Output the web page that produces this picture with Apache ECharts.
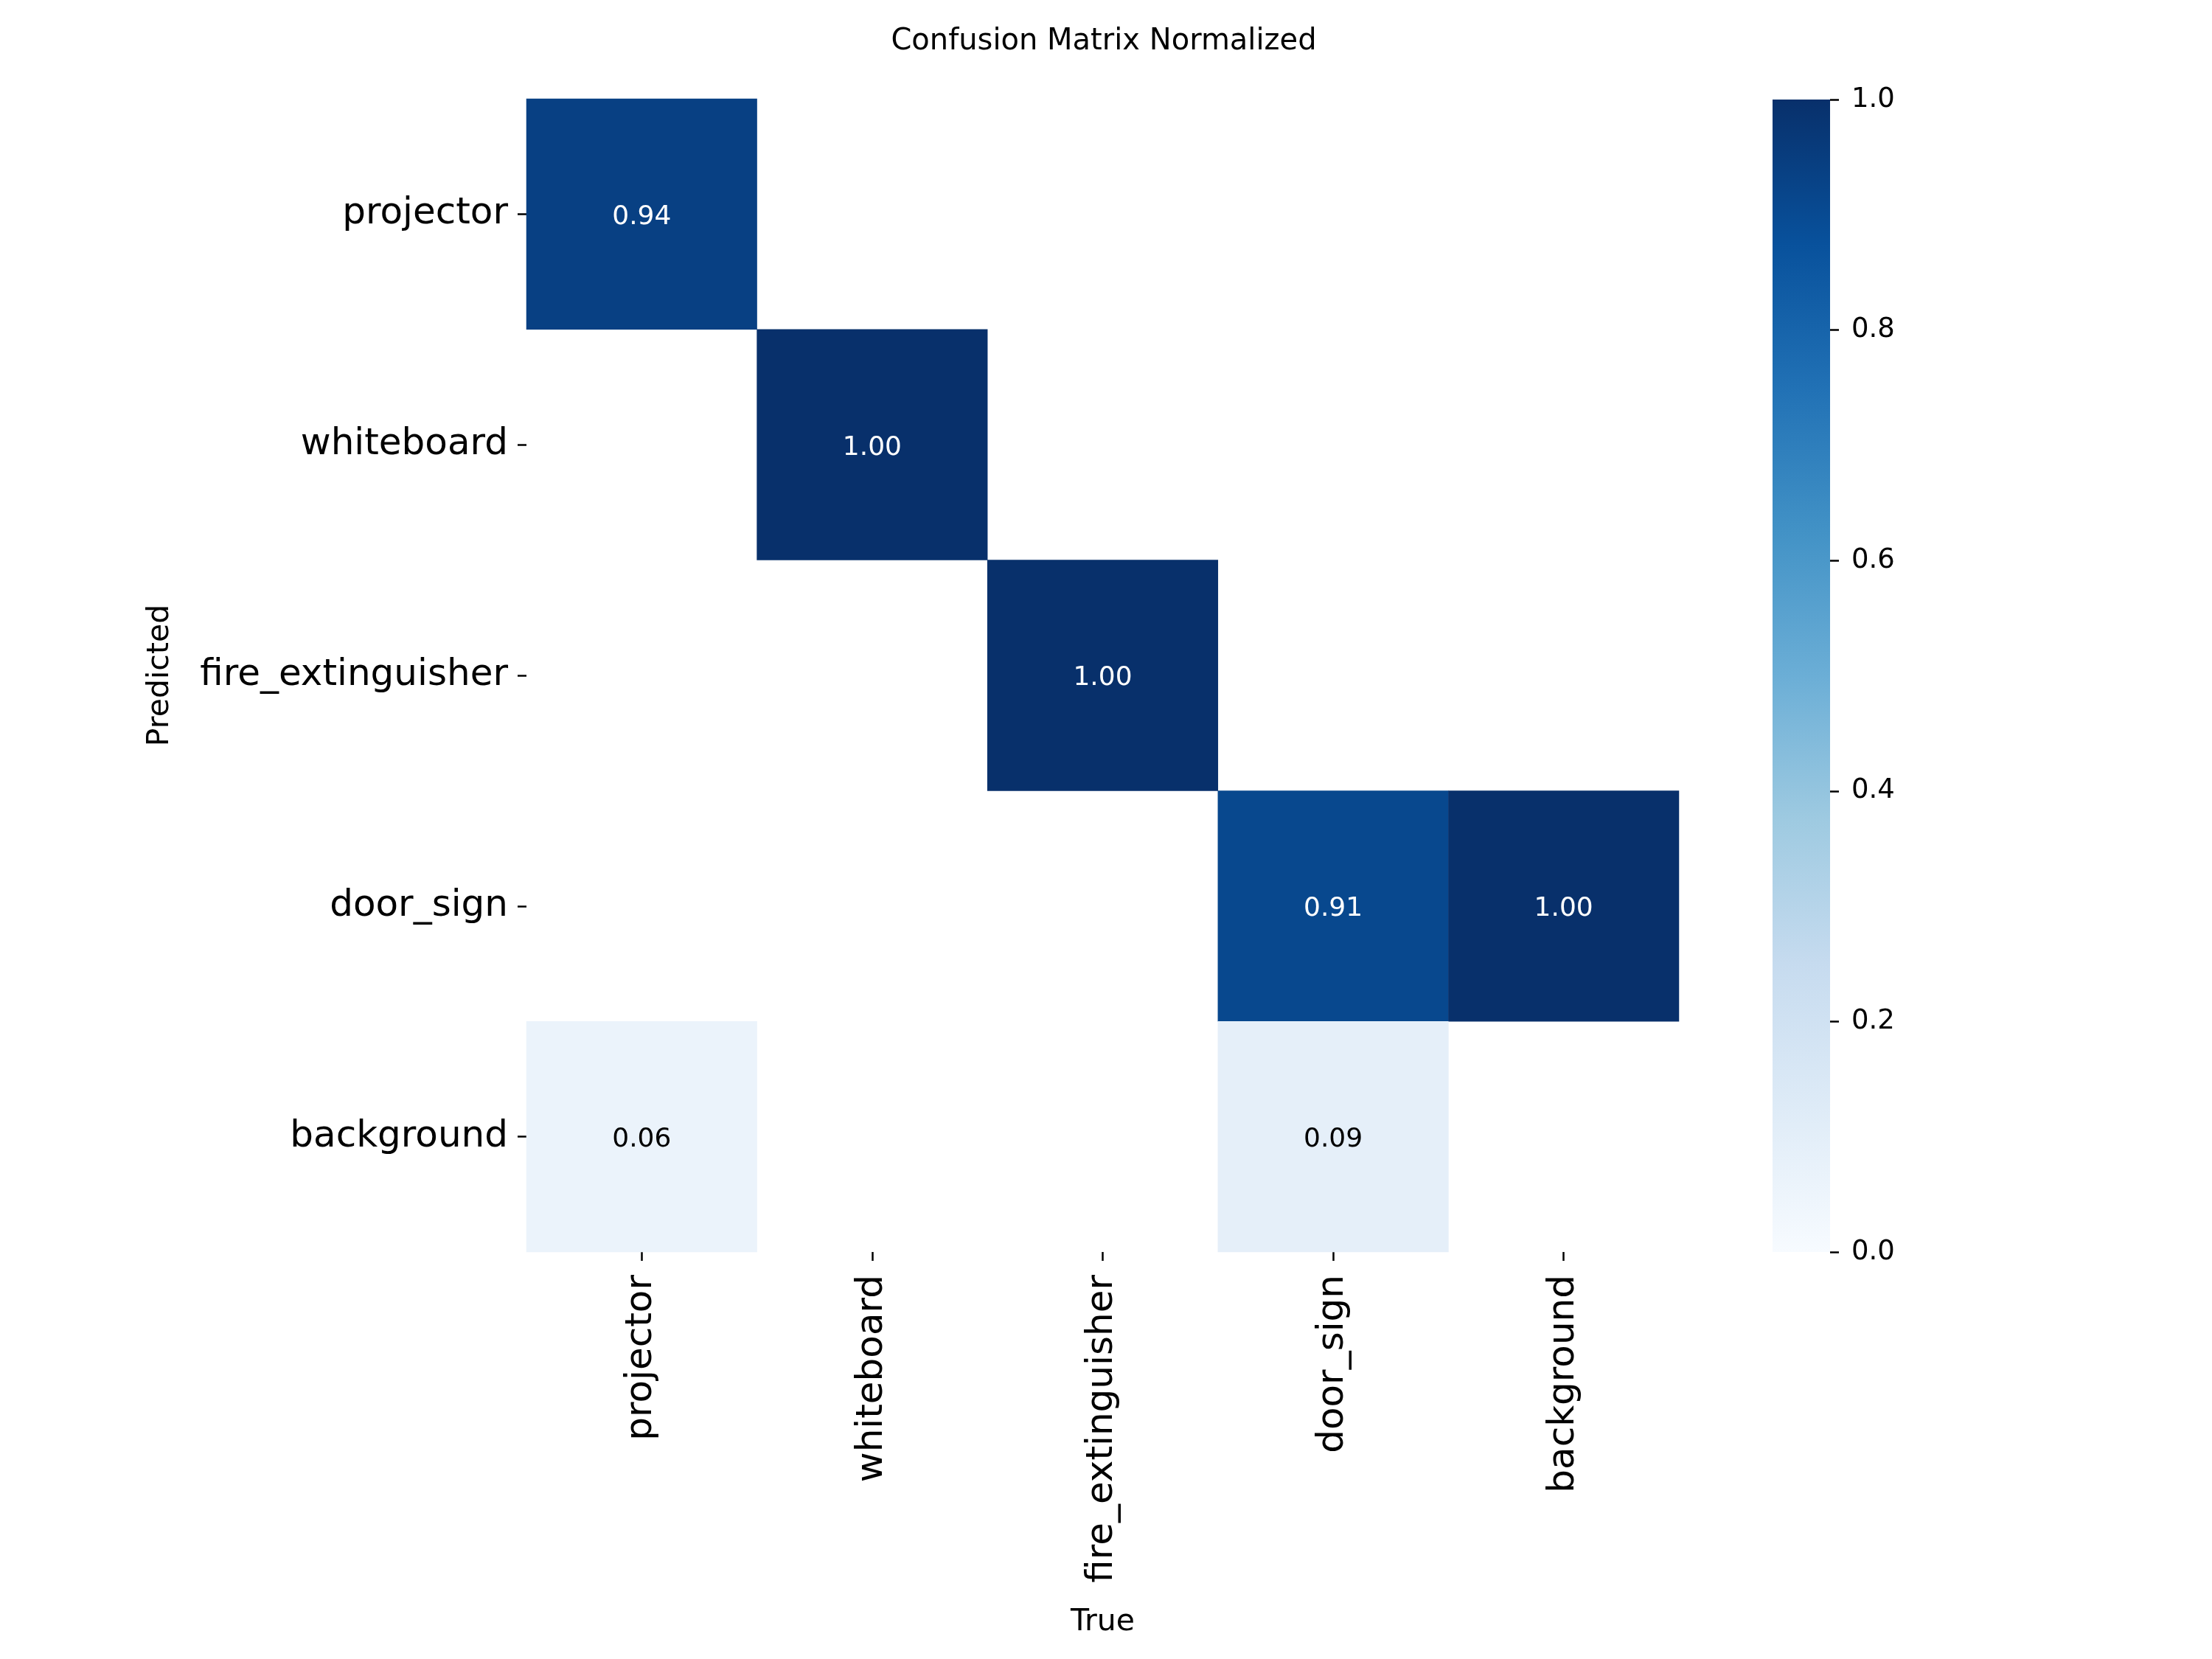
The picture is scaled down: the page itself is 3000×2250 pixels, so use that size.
<!DOCTYPE html>
<html lang="en">
<head>
    <meta charset="UTF-8">
    <title>Confusion Matrix Normalized</title>
    <script src="https://cdn.jsdelivr.net/npm/echarts@6/dist/echarts.min.js"></script>
    <style>
        html, body { margin: 0; padding: 0; background: #fff; }
    </style>
</head>
<body>
    <div id="main" style="width: 3000px;height:2250px;"></div>

<script type="text/javascript">
    // class names (true = columns, predicted = rows)
    var classes = ['projector', 'whiteboard', 'fire_extinguisher', 'door_sign', 'background'];

    // one row per predicted class, values by true class (0 = empty cell)
    var rowProjector = [0.94, 0, 0, 0, 0];
    var rowWhiteboard = [0, 1.00, 0, 0, 0];
    var rowFireExt = [0, 0, 1.00, 0, 0];
    var rowDoorSign = [0, 0, 0, 0.91, 1.00];
    var rowBackground = [0.06, 0, 0, 0.09, 0];

    // matplotlib "Blues"
    var blues = ['#f7fbff', '#deebf7', '#c6dbef', '#9ecae1', '#6baed6',
                 '#4292c6', '#2171b5', '#08519c', '#08306b'];

    var rows = [rowProjector, rowWhiteboard, rowFireExt, rowDoorSign, rowBackground];
    var cells = [];
    rows.forEach(function (row, r) {
        row.forEach(function (v, c) {
            if (v > 0) {
                cells.push({
                    value: [c, r, v],
                    label: { color: v > 0.5 ? '#ffffff' : '#000000' }
                });
            }
        });
    });

    // colorbar gradient, bottom (0) to top (1)
    var barGradient = new echarts.graphic.LinearGradient(0, 1, 0, 0,
        blues.map(function (c, i) { return { offset: i / (blues.length - 1), color: c }; }));

    var font = 'DejaVu Sans';
    var myChart = echarts.init(document.getElementById('main'));

    var option = {
        backgroundColor: '#ffffff',
        animation: false,
        title: {
            text: 'Confusion Matrix Normalized',
            left: 1492,
            top: 32,
            textAlign: 'center',
            textStyle: { fontFamily: font, fontSize: 40, fontWeight: 'normal', color: '#000' }
        },
        grid: [
            { left: 714, top: 134, width: 1563, height: 1564 },
            // colorbar body
            { left: 2404, top: 135, width: 78, height: 1563, show: true,
              backgroundColor: barGradient, borderWidth: 0 },
            // colorbar scale, on the right edge of the bar
            { left: 2482, top: 135, width: 1, height: 1563 }
        ],
        xAxis: [
            {
                type: 'category',
                gridIndex: 0,
                data: classes,
                name: 'True',
                nameLocation: 'middle',
                nameGap: 482,
                nameTextStyle: { fontFamily: font, fontSize: 41, color: '#000' },
                axisLine: { show: false },
                axisTick: { show: true, alignWithLabel: true, length: 12, lineStyle: { color: '#000', width: 2.5 } },
                axisLabel: { rotate: 90, margin: 31, fontFamily: font, fontSize: 50, color: '#000' },
                splitLine: { show: false }
            },
            { type: 'value', gridIndex: 1, min: 0, max: 1, show: false },
            { type: 'value', gridIndex: 2, min: 0, max: 1, show: false }
        ],
        yAxis: [
            {
                type: 'category',
                gridIndex: 0,
                data: classes,
                inverse: true,
                name: 'Predicted',
                nameLocation: 'middle',
                nameGap: 476,
                nameRotate: 90,
                nameTextStyle: { fontFamily: font, fontSize: 41, color: '#000' },
                axisLine: { show: false },
                axisTick: { show: true, alignWithLabel: true, length: 12, lineStyle: { color: '#000', width: 2.5 } },
                axisLabel: { margin: 25, fontFamily: font, fontSize: 50, color: '#000', padding: [14, 0, 0, 0] },
                splitLine: { show: false }
            },
            { type: 'value', gridIndex: 1, min: 0, max: 1, show: false },
            {
                type: 'value',
                gridIndex: 2,
                position: 'right',
                min: 0,
                max: 1,
                interval: 0.2,
                axisLine: { show: false },
                axisTick: { show: true, length: 12, lineStyle: { color: '#000', width: 2.5 } },
                axisLabel: {
                    margin: 28, fontFamily: font, fontSize: 37, color: '#000',
                    formatter: function (v) { return v.toFixed(1); }
                },
                splitLine: { show: false }
            }
        ],
        visualMap: {
            type: 'continuous',
            show: false,
            min: 0,
            max: 1,
            seriesIndex: 0,
            inRange: { color: blues }
        },
        series: [
            {
                type: 'heatmap',
                xAxisIndex: 0,
                yAxisIndex: 0,
                data: cells,
                label: {
                    show: true,
                    fontFamily: font,
                    fontSize: 36,
                    offset: [0, 4],
                    formatter: function (p) { return p.value[2].toFixed(2); }
                },
                emphasis: { disabled: true }
            }
        ]
    };

    myChart.setOption(option);
</script>
</body>
</html>
